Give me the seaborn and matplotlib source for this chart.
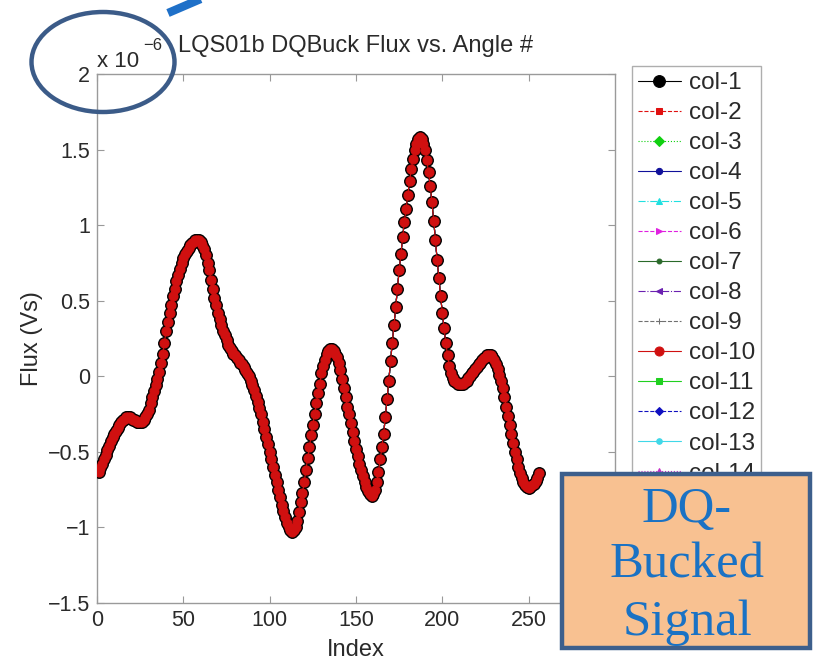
import matplotlib
matplotlib.use("Agg")
import matplotlib.pyplot as plt
from matplotlib.patches import Ellipse, Rectangle
from matplotlib.lines import Line2D
import numpy as np
import pandas as pd
import seaborn as sns

# Bucked flux per angle index, in units of 1e-6 Vs
flux_e6 = [
    -0.63, -0.61, -0.58, -0.55, -0.52, -0.49, -0.46, -0.43, -0.40, -0.38,
    -0.36, -0.34, -0.32, -0.30, -0.29, -0.28, -0.27, -0.27, -0.27, -0.28,
    -0.29, -0.29, -0.30, -0.30, -0.30, -0.30, -0.29, -0.27, -0.25, -0.22,
    -0.18, -0.14, -0.10, -0.06, -0.02, 0.03, 0.09, 0.15, 0.22, 0.30,
    0.36, 0.42, 0.47, 0.53, 0.58, 0.63, 0.67, 0.71, 0.75, 0.78,
    0.81, 0.83, 0.85, 0.87, 0.88, 0.89, 0.90, 0.90, 0.90, 0.89,
    0.87, 0.84, 0.80, 0.75, 0.70, 0.64, 0.58, 0.52, 0.47, 0.42,
    0.38, 0.34, 0.30, 0.27, 0.24, 0.21, 0.19, 0.17, 0.15, 0.14,
    0.12, 0.11, 0.09, 0.08, 0.06, 0.04, 0.02, 0.00, -0.03, -0.06,
    -0.09, -0.13, -0.17, -0.21, -0.25, -0.30, -0.35, -0.40, -0.45, -0.50,
    -0.55, -0.60, -0.65, -0.70, -0.75, -0.80, -0.85, -0.89, -0.93, -0.97,
    -1.00, -1.02, -1.03, -1.02, -1.00, -0.96, -0.90, -0.83, -0.77, -0.70,
    -0.62, -0.54, -0.47, -0.39, -0.32, -0.25, -0.18, -0.11, -0.05, 0.02,
    0.07, 0.11, 0.15, 0.17, 0.18, 0.18, 0.17, 0.15, 0.13, 0.09,
    0.04, -0.02, -0.08, -0.14, -0.20, -0.25, -0.31, -0.37, -0.43, -0.48,
    -0.53, -0.58, -0.62, -0.66, -0.70, -0.73, -0.76, -0.78, -0.79, -0.78,
    -0.75, -0.70, -0.63, -0.55, -0.47, -0.38, -0.27, -0.15, -0.03, 0.10,
    0.22, 0.34, 0.46, 0.58, 0.70, 0.81, 0.92, 1.02, 1.11, 1.20,
    1.29, 1.37, 1.44, 1.50, 1.54, 1.57, 1.58, 1.57, 1.54, 1.50,
    1.43, 1.35, 1.26, 1.15, 1.03, 0.90, 0.77, 0.65, 0.53, 0.42,
    0.32, 0.22, 0.14, 0.07, 0.02, -0.01, -0.03, -0.04, -0.05, -0.05,
    -0.05, -0.05, -0.04, -0.03, -0.01, 0.00, 0.02, 0.03, 0.05, 0.06,
    0.08, 0.09, 0.11, 0.12, 0.13, 0.14, 0.14, 0.14, 0.13, 0.11,
    0.08, 0.05, 0.01, -0.03, -0.08, -0.14, -0.20, -0.26, -0.32, -0.38,
    -0.44, -0.50, -0.55, -0.60, -0.64, -0.67, -0.70, -0.72, -0.73, -0.74,
    -0.73, -0.72, -0.71, -0.69, -0.67, -0.64,
]
index = list(range(1, len(flux_e6) + 1))

columns = [f"col-{i}" for i in range(1, 15)]
x_ticks = [0, 50, 100, 150, 200, 250]
y_ticks = [-1.5, -1, -0.5, 0, 0.5, 1, 1.5, 2]
y_tick_labels = ["\u22121.5", "\u22121", "\u22120.5", "0", "0.5", "1", "1.5", "2"]
box_lines = ["DQ-", "Bucked", "Signal"]

# MATLAB-like line specs for each column
colors = ["#000000", "#e01010", "#10d010", "#10109a", "#20e0e0", "#e020e0",
          "#2a6a2a", "#6a20b0", "#707070", "#d01010", "#20d020", "#1010c0",
          "#40d8e8", "#c830c8"]
markers = ["o", "s", "D", "o", "^", ">", "o", "<", "+", "o", "s", "D", "o", "^"]
styles = ["-", "--", ":", "-", "-.", "--", "-", "-.", "--", "-", "-", "--", "-", ":"]
sizes = [8.5, 5, 5, 4.5, 5, 5, 3.5, 5, 5, 6.5, 5, 4.5, 4, 5]

sns.set_style("white")
plt.rcParams["font.family"] = ["Liberation Sans", "DejaVu Sans"]
TXT = "#2a2a2a"

fig = plt.figure(figsize=(8.13, 6.61), dpi=100)
ax = fig.add_axes([97 / 813, 58 / 661, 518 / 813, 529 / 661])

df = pd.DataFrame({"Index": index, "Flux": flux_e6})
for i, name in enumerate(columns):
    z = 3
    if name == "col-10":
        z = 6
    elif name == "col-1":
        z = 5
    sns.lineplot(data=df, x="Index", y="Flux", ax=ax, color=colors[i],
                 marker=markers[i], linestyle=styles[i], markersize=sizes[i],
                 markeredgecolor=colors[i], linewidth=0.8, label=name,
                 zorder=z, legend=False)

ax.set_xlim(0, 300)
ax.set_ylim(-1.5, 2)
ax.set_xticks(x_ticks)
ax.set_xticklabels([str(v) for v in x_ticks], fontsize=15.5, color=TXT)
ax.set_yticks(y_ticks)
ax.set_yticklabels(y_tick_labels, fontsize=15.5, color=TXT)
ax.tick_params(direction="in", length=5, width=0.8, color="#999999",
               top=True, right=True, bottom=True, left=True, pad=5)
for sp in ax.spines.values():
    sp.set_visible(True)
    sp.set_color("#9a9a9a")
    sp.set_linewidth(1.0)
ax.set_xlabel("Index", fontsize=17, color=TXT, labelpad=6)
ax.set_ylabel("Flux (Vs)", fontsize=17, color=TXT, labelpad=3)
ax.set_title("LQS01b DQBuck Flux vs. Angle #", fontsize=17, color=TXT, pad=16)

# exponent multiplier for the y axis
fig.text(97 / 813, 1 - 67 / 661, "x 10", fontsize=16, color=TXT,
         ha="left", va="baseline")
fig.text(143 / 813, 1 - 50 / 661, "\u22126", fontsize=12, color=TXT,
         ha="left", va="baseline")

handles, labels = ax.get_legend_handles_labels()
leg = fig.legend(handles, labels, loc="upper left",
                 bbox_to_anchor=(632 / 813, 1 - 66 / 661),
                 fontsize=17.5, frameon=True, fancybox=False, handlelength=1.75,
                 handletextpad=0.35, labelspacing=0.33, borderpad=0.25,
                 borderaxespad=0)
leg.get_frame().set_edgecolor("#9a9a9a")
leg.get_frame().set_linewidth(1.0)
for t in leg.get_texts():
    t.set_color(TXT)

# callout: ellipse round the multiplier and a pointer stroke
fig.add_artist(Ellipse((103 / 813, 1 - 62 / 661), 143 / 813, 100 / 661,
                       transform=fig.transFigure, fill=False,
                       edgecolor="#3b5b88", linewidth=3.2, zorder=20))
fig.add_artist(Line2D([168 / 813, 210 / 813], [1 - 13 / 661, 1 + 5 / 661],
                      transform=fig.transFigure, color="#1f70c8",
                      linewidth=6, solid_capstyle="butt", zorder=20))

# text box
fig.add_artist(Rectangle((562 / 813, 1 - 648 / 661), 248 / 813, 174 / 661,
                         transform=fig.transFigure, facecolor="#f8c191",
                         edgecolor="#3d5f8c", linewidth=3.2, zorder=20))
for line, base in zip(box_lines, [522, 578, 635]):
    fig.text(687 / 813, 1 - base / 661, line, fontsize=36.5,
             family=["Liberation Serif", "DejaVu Serif"], color="#1a72c4",
             ha="center", va="baseline", zorder=21)

fig.savefig("out.png", dpi=100)
